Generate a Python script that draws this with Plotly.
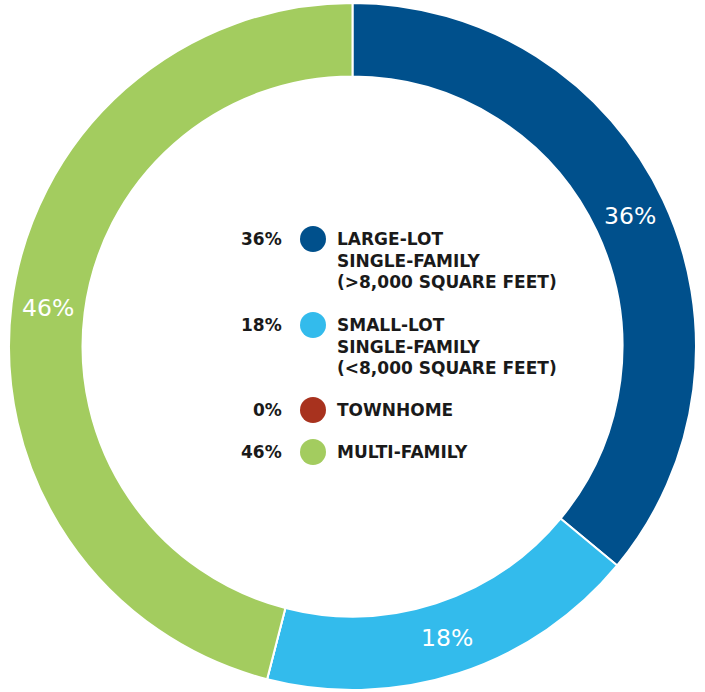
import math
import plotly.graph_objects as go

categories = ["LARGE-LOT<br>SINGLE-FAMILY<br>(>8,000 SQUARE FEET)",
              "SMALL-LOT<br>SINGLE-FAMILY<br>(<8,000 SQUARE FEET)",
              "TOWNHOME",
              "MULTI-FAMILY"]
values = [36, 18, 0, 46]
colors = ["#00508C", "#33BBEC", "#A8321E", "#A3CC5F"]

W, H = 705, 692
mt, mb = 3, 2
ph = H - mt - mb
cx, cy = W / 2, mt + ph / 2
R = ph / 2
hole = 0.786

def py(y):
    return 1 - (y - mt) / ph

fig = go.Figure()
fig.add_trace(go.Pie(
    labels=[c.replace("<br>", " ") for c in categories],
    values=values,
    marker=dict(colors=colors, line=dict(color="white", width=2)),
    hole=hole,
    sort=False,
    direction="clockwise",
    rotation=0,
    textinfo="none",
    showlegend=False,
    hoverinfo="label+value",
))

annotations = []
shapes = []

# ring percentage labels, positioned at each slice's bisector
total = sum(values)
cum = 0
rmid = R * (1 + hole) / 2
for v in values:
    if v > 0:
        ang = math.radians((cum + v / 2) / total * 360)
        x = cx + rmid * math.sin(ang)
        y = cy - rmid * math.cos(ang)
        annotations.append(dict(x=x / W, y=py(y), xref="paper", yref="paper",
                                text=f"{v}%", showarrow=False,
                                xanchor="center", yanchor="middle",
                                font=dict(family="DejaVu Sans", size=23.5, color="white")))
    cum += v

# centre legend
legend_y = [239, 325, 410, 452]
line_gap = 21.5
lfont = dict(family="DejaVu Sans", size=17, color="#1a1a1a", weight=700)
for cat, val, col, yy in zip(categories, values, colors, legend_y):
    yp = py(yy)
    shapes.append(dict(type="circle", xref="paper", yref="paper",
                       xsizemode="pixel", ysizemode="pixel",
                       xanchor=313 / W, yanchor=yp,
                       x0=-13, x1=13, y0=-13, y1=13,
                       fillcolor=col, line=dict(width=0)))
    annotations.append(dict(x=284 / W, y=yp, xref="paper", yref="paper",
                            text=f"{val}%", showarrow=False,
                            xanchor="right", yanchor="middle", font=lfont))
    for i, line in enumerate(cat.split("<br>")):
        annotations.append(dict(x=335 / W, y=py(yy + i * line_gap), xref="paper", yref="paper",
                                text=line, showarrow=False, align="left",
                                xanchor="left", yanchor="middle", font=lfont))

fig.update_layout(
    width=W, height=H,
    margin=dict(l=0, r=0, t=mt, b=mb, pad=0),
    paper_bgcolor="white", plot_bgcolor="white",
    shapes=shapes, annotations=annotations,
)
fig.write_html("out.html", config={"displayModeBar": False},
               post_script="document.body.style.margin='0';")
